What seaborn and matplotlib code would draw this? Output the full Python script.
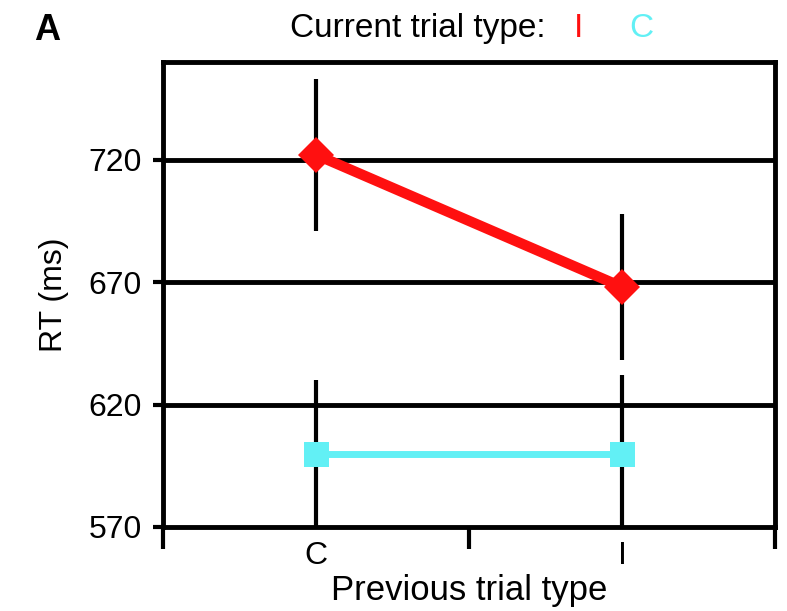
#!/usr/bin/env python3
"""RT by previous and current trial type (panel A)."""
import numpy as np
import pandas as pd
import matplotlib
matplotlib.use("Agg")
import matplotlib.pyplot as plt
import seaborn as sns

# data
prev_types = ["C", "I"]
rt_current_I = [722, 668]
err_current_I = [31, 30]
rt_current_C = [600, 600]
err_current_C = [30, 32]

yticks = [570, 620, 670, 720]

RED = "#ff1010"
CYAN = "#62f0f5"


def main():
    sns.set_theme(style="white")
    plt.rcParams["font.family"] = ["Liberation Sans", "DejaVu Sans"]
    for k in ["text.color", "axes.labelcolor", "xtick.color", "ytick.color"]:
        plt.rcParams[k] = "black"

    pos = np.arange(len(prev_types))
    df = pd.DataFrame({
        "prev": np.tile(pos, 2),
        "rt": rt_current_I + rt_current_C,
        "err": err_current_I + err_current_C,
        "current": ["I"] * 2 + ["C"] * 2,
    })

    fig = plt.figure(figsize=(7.87, 6.11), dpi=100)
    ax = fig.add_axes([0.207, 0.1375, 0.778, 0.7615])

    # grid lines at the y ticks
    for y in yticks[1:]:
        ax.axhline(y, color="black", lw=3.5, zorder=1)

    # black error bars
    ax.errorbar(df["prev"], df["rt"], yerr=df["err"], fmt="none",
                ecolor="black", elinewidth=3, capsize=0, zorder=2)

    sub_i = df[df["current"] == "I"]
    sub_c = df[df["current"] == "C"]
    sns.lineplot(data=sub_i, x="prev", y="rt", ax=ax, color=RED, lw=7.5,
                 marker="D", markersize=18, markeredgewidth=0, zorder=4)
    sns.lineplot(data=sub_c, x="prev", y="rt", ax=ax, color=CYAN, lw=5,
                 marker="s", markersize=18, markeredgewidth=0, zorder=4)

    ax.set_xlim(-0.5, 1.5)
    ax.set_ylim(570, 760)
    ax.set_yticks(yticks)
    ax.set_yticklabels([str(v) for v in yticks], fontsize=23)
    ax.set_xticks([-0.5, 0.5, 1.5])
    ax.set_xticklabels([])
    ax.set_xticks(pos, minor=True)
    ax.set_xticklabels(prev_types, minor=True, fontsize=23)
    ax.tick_params(axis="x", which="major", direction="out", length=16, width=3,
                   bottom=True)
    ax.tick_params(axis="x", which="minor", length=0, pad=10, bottom=True)
    ax.tick_params(axis="y", direction="out", length=7, width=3, pad=8, left=True)

    for s in ax.spines.values():
        s.set_color("black")
        s.set_linewidth(3.5)

    ax.set_xlabel("Previous trial type", fontsize=25, labelpad=2)
    ax.set_ylabel("RT (ms)", fontsize=23, labelpad=14)

    # legend as text on top
    fig.text(0.693, 0.953, "Current trial type:", fontsize=24, ha="right", va="center")
    fig.text(0.735, 0.953, "I", fontsize=24, color=RED, ha="center", va="center")
    fig.text(0.815, 0.953, "C", fontsize=24, color=CYAN, ha="center", va="center")
    fig.text(0.06, 0.95, "A", fontsize=26, weight="bold", ha="center", va="center")

    fig.savefig("out.png", dpi=100)
    plt.close(fig)


if __name__ == "__main__":
    main()
